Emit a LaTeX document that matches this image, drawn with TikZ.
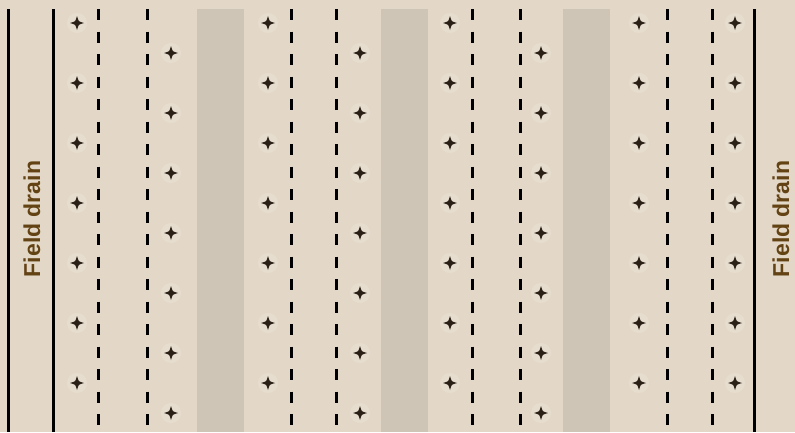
\documentclass[tikz,border=0pt]{standalone}
\usepackage{fontspec}
\setmainfont{Liberation Sans}
\definecolor{bgc}{HTML}{E3D8C7}
\definecolor{stripc}{HTML}{CEC5B6}
\definecolor{plantc}{HTML}{2B2016}
\definecolor{labelc}{HTML}{634214}
\tikzset{
  drain/.style={line width=3pt, black},
  tiledrain/.style={line width=3pt, black, dash pattern=on 11pt off 11.5pt},
  strip/.style={fill=stripc},
  drainlabel/.style={inner sep=0pt, text=labelc, font=\fontsize{23}{23}\selectfont\bfseries, rotate=90},
  plant/.pic={
    \fill[white, opacity=0.15] (0,0) circle (10);
    \fill[plantc] (7,0) -- (1.7,1.7) -- (0,7) -- (-1.7,1.7) -- (-7,0) -- (-1.7,-1.7) -- (0,-7) -- (1.7,-1.7) -- cycle;
    \fill[plantc] (0,0) circle (3);
  }
}
\begin{document}
\begin{tikzpicture}[x=1pt, y=-1pt]
  \fill[bgc] (0,0) rectangle (795,432);
  \useasboundingbox (0,0) rectangle (795,432);
  % grey strips
  \fill[strip] (197,9) rectangle (244,432);
  \fill[strip] (381,9) rectangle (428,432);
  \fill[strip] (563,9) rectangle (610,432);
  % field drains
  \coordinate (d1t) at (8,9);   \coordinate (d1b) at (8,432);
  \coordinate (d2t) at (53,9);  \coordinate (d2b) at (53,432);
  \coordinate (d3t) at (754,9); \coordinate (d3b) at (754,432);
  \draw[drain] (d1t) -- (d1b);
  \draw[drain] (d2t) -- (d2b);
  \draw[drain] (d3t) -- (d3b);
  % dashed tile lines
  \foreach \x in {98,147,291,336,472,520,667,712} {
    \draw[tiledrain] (\x,9) -- (\x,432);
  }
  % plants
  \foreach \x/\o in {77/23,171/53,268/23,360/53,450/23,541/53,639/23,735/23} {
    \foreach \k in {0,...,6} {
      \pgfmathsetmacro{\yy}{\o+60*\k}
      \pic at (\x,\yy) {plant};
    }
  }
  % labels
  \node[drainlabel] (leftlabel) at (32,219) {Field drain};
  \node[drainlabel] (rightlabel) at (781,219) {Field drain};
\end{tikzpicture}
\end{document}
